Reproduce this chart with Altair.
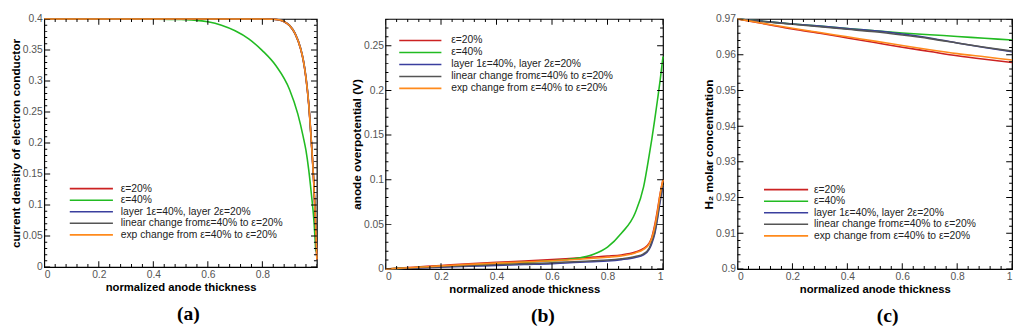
import altair as alt
import pandas as pd

SERIES = ["ε=20%", "ε=40%", "layer 1ε=40%, layer 2ε=20%",
          "linear change fromε=40% to ε=20%", "exp change from ε=40% to ε=20%"]
COLORS = ["#cc2222", "#22bb22", "#3a3f9e", "#555555", "#ff8a1c"]

# ---------------- panel (a): current density of electron conductor
A_X_MAIN = [0, 0.2, 0.4, 0.6, 0.7, 0.8, 0.84, 0.86, 0.88, 0.9, 0.92, 0.94, 0.95,
            0.96, 0.97, 0.98, 0.988, 0.994, 0.998, 1.0]
A_RED = [0.4, 0.4, 0.4, 0.4, 0.4, 0.3999, 0.3995, 0.3985, 0.3955, 0.389, 0.376, 0.352,
         0.333, 0.304, 0.262, 0.199, 0.140, 0.082, 0.035, 0.012]
A_BLUE = [0.4, 0.4, 0.4, 0.4, 0.4, 0.3999, 0.3996, 0.3987, 0.396, 0.3897, 0.3772, 0.3535,
          0.335, 0.3065, 0.265, 0.202, 0.143, 0.085, 0.037, 0.013]
A_GRAY = [0.4, 0.4, 0.4, 0.4, 0.4, 0.3999, 0.3995, 0.3986, 0.3957, 0.3893, 0.3765, 0.3527,
          0.334, 0.3052, 0.2635, 0.2005, 0.1415, 0.0835, 0.036, 0.0125]
A_ORANGE = [0.4, 0.4, 0.4, 0.4, 0.4, 0.3999, 0.3995, 0.3986, 0.3958, 0.3894, 0.3766, 0.3528,
            0.3342, 0.3055, 0.2638, 0.2008, 0.1418, 0.0838, 0.0362, 0.0125]
A_X_GREEN = [0, 0.1, 0.2, 0.3, 0.4, 0.5, 0.55, 0.6, 0.65, 0.7, 0.75, 0.8, 0.85, 0.9,
             0.93, 0.95, 0.96, 0.97, 0.98, 0.99, 0.996]
A_GREEN = [0.4, 0.4, 0.4, 0.4, 0.3998, 0.3992, 0.3982, 0.3955, 0.390, 0.381, 0.368,
           0.349, 0.3245, 0.286, 0.247, 0.210, 0.188, 0.157, 0.117, 0.070, 0.025]

# ---------------- panel (b): anode overpotential
B_X = [0, 0.1, 0.2, 0.3, 0.4, 0.5, 0.6, 0.65, 0.7, 0.75, 0.8, 0.85, 0.9, 0.93, 0.95,
       0.96, 0.97, 0.98, 0.99, 1.0]
B_RED = [0, 0.002, 0.004, 0.006, 0.0075, 0.0088, 0.0105, 0.0115, 0.0125, 0.0135, 0.0145,
         0.0158, 0.019, 0.023, 0.029, 0.036, 0.049, 0.066, 0.085, 0.100]
B_GREEN = [0, 0.0015, 0.003, 0.0045, 0.006, 0.0075, 0.0092, 0.0104, 0.0125, 0.0165,
           0.0245, 0.040, 0.063, 0.092, 0.127, 0.146, 0.167, 0.189, 0.212, 0.238]
B_BLUE = [0, 0.001, 0.002, 0.003, 0.004, 0.005, 0.006, 0.0068, 0.0075, 0.0082, 0.009,
          0.0105, 0.013, 0.016, 0.022, 0.029, 0.039, 0.056, 0.076, 0.092]
B_GRAY = [0, 0.0012, 0.0025, 0.0037, 0.005, 0.006, 0.007, 0.0078, 0.0085, 0.0092, 0.010,
          0.0115, 0.014, 0.017, 0.023, 0.031, 0.041, 0.058, 0.079, 0.094]
B_ORANGE = [0, 0.0017, 0.0035, 0.0052, 0.0066, 0.0078, 0.0093, 0.0101, 0.011, 0.012,
            0.0132, 0.0147, 0.018, 0.022, 0.028, 0.035, 0.047, 0.064, 0.084, 0.100]

# ---------------- panel (c): H2 molar concentration
C_X = [0, 0.1, 0.2, 0.3, 0.4, 0.5, 0.6, 0.7, 0.8, 0.9, 1.0]
C_RED = [0.97, 0.9686, 0.9672, 0.9660, 0.9647, 0.9634, 0.9621, 0.9609, 0.9597, 0.9587, 0.9578]
C_GREEN = [0.97, 0.9693, 0.9686, 0.9680, 0.9673, 0.9667, 0.9661, 0.9656, 0.9651, 0.9646, 0.9641]
C_BLUE = [0.97, 0.9693, 0.9686, 0.9680, 0.9673, 0.9667, 0.9658, 0.9647, 0.9633, 0.9620, 0.9608]
C_GRAY = [0.97, 0.9692, 0.9685, 0.9678, 0.9671, 0.9664, 0.9655, 0.9645, 0.9633, 0.9621, 0.9610]
C_ORANGE = [0.97, 0.9687, 0.9674, 0.9662, 0.9650, 0.9638, 0.9626, 0.9614, 0.9603, 0.9594, 0.9585]

# tick labels
X_TICKS_A = [0, 0.2, 0.4, 0.6, 0.8]
X_TICKS = [0, 0.2, 0.4, 0.6, 0.8, 1.0]
Y_TICKS_A = [0, 0.05, 0.1, 0.15, 0.2, 0.25, 0.3, 0.35, 0.4]
Y_TICKS_B = [0, 0.05, 0.1, 0.15, 0.2, 0.25]
Y_TICKS_C = [0.9, 0.91, 0.92, 0.93, 0.94, 0.95, 0.96, 0.97]


def steps(lo, hi, step):
    n = int(round((hi - lo) / step))
    return [round(lo + i * step, 4) for i in range(n + 1)]


FONT = "Liberation Sans"
CSCALE = alt.Scale(domain=SERIES, range=COLORS)


def frame(xs, ys):
    rows = []
    for k, (xx, yy) in enumerate(zip(xs, ys)):
        for a, b in zip(xx, yy):
            rows.append({"x": a, "y": b, "series": SERIES[k], "k": k})
    return pd.DataFrame(rows)


def panel(df, xdom, ydom, xt, yt, xminor, yminor, ytitle, letter, dx, w, h, leg):
    xs = alt.Scale(domain=xdom, nice=False, zero=False)
    ys = alt.Scale(domain=ydom, nice=False, zero=False)
    lab = dict(labelFont=FONT, labelFontSize=10.5, labelColor="#555555",
               titleFont=FONT, titleFontWeight="bold", titleColor="black",
               grid=False, domain=False, ticks=False, format="~g")
    main_x = alt.Axis(orient="bottom", values=xt, title="normalized anode thickness",
                      titleFontSize=11.5, labelPadding=3, titlePadding=1, **lab)
    main_y = alt.Axis(orient="left", values=yt, title=ytitle, titleFontSize=12,
                      labelPadding=2, titlePadding=0, **lab)
    lines = alt.Chart(df).mark_line(strokeWidth=1.6, interpolate="monotone").encode(
        x=alt.X("x:Q", scale=xs, axis=main_x),
        y=alt.Y("y:Q", scale=ys, axis=main_y),
        color=alt.Color("series:N", scale=CSCALE, legend=None),
        detail="k:N",
    )
    layers = [lines]
    xmaj = [v for v in xt]
    xmin = [v for v in xminor if all(abs(v - m) > 1e-9 for m in xmaj)]
    ymin = [v for v in yminor if all(abs(v - m) > 1e-9 for m in yt)]
    for vals, size in [(xmaj, 6), (xmin, 3)]:
        for ypos in [0, h]:
            layers.append(alt.Chart(pd.DataFrame({"v": vals})).mark_tick(
                orient="vertical", clip=True, thickness=1, size=2 * size, color="black",
                opacity=1).encode(x=alt.X("v:Q", scale=xs, axis=None), y=alt.value(ypos)))
    for vals, size in [(yt, 6), (ymin, 3)]:
        for xpos in [0, w]:
            layers.append(alt.Chart(pd.DataFrame({"v": vals})).mark_tick(
                orient="horizontal", clip=True, thickness=1, size=2 * size, color="black",
                opacity=1).encode(y=alt.Y("v:Q", scale=ys, axis=None), x=alt.value(xpos)))
    lx0, lx1, tx, y0, dy = leg
    legdf = pd.DataFrame({"series": SERIES, "idx": list(range(len(SERIES)))})
    lbase = alt.Chart(legdf).transform_calculate(py=f"{y0} + datum.idx * {dy}")
    layers.append(lbase.mark_rule(strokeWidth=1.6).encode(
        x=alt.value(lx0), x2=alt.value(lx1),
        y=alt.Y("py:Q", scale=None, axis=None),
        color=alt.Color("series:N", scale=CSCALE, legend=None)))
    layers.append(lbase.mark_text(align="left", baseline="middle", font=FONT,
                                  fontSize=10.5, color="#222222").encode(
        x=alt.value(tx), y=alt.Y("py:Q", scale=None, axis=None), text="series:N"))
    return alt.layer(*layers).resolve_axis(x="independent", y="independent").properties(
        width=w, height=h,
        title=alt.TitleParams(letter, orient="bottom", font="Liberation Serif", fontSize=20,
                              fontWeight="bold", color="black", offset=12, dx=dx,
                              anchor="middle", frame="group"))


dfa = pd.concat([frame([A_X_MAIN], [A_RED]).assign(series=SERIES[0], k=0),
                 frame([A_X_GREEN], [A_GREEN]).assign(series=SERIES[1], k=1),
                 frame([A_X_MAIN], [A_BLUE]).assign(series=SERIES[2], k=2),
                 frame([A_X_MAIN], [A_GRAY]).assign(series=SERIES[3], k=3),
                 frame([A_X_MAIN], [A_ORANGE]).assign(series=SERIES[4], k=4)])
dfb = frame([B_X] * 5, [B_RED, B_GREEN, B_BLUE, B_GRAY, B_ORANGE])
dfc = frame([C_X] * 5, [C_RED, C_GREEN, C_BLUE, C_GRAY, C_ORANGE])

pa = panel(dfa, [0, 1], [0, 0.4], X_TICKS_A, Y_TICKS_A, steps(0, 1, 0.04),
           steps(0, 0.4, 0.01), "current density of electron conductor", "(a)", 8,
           278, 253, (26, 70, 78, 173, 11.8))
pb = panel(dfb, [0, 1], [0, 0.28], X_TICKS, Y_TICKS_B, steps(0, 1, 0.04),
           steps(0, 0.28, 0.01), "anode overpotential (V)", "(b)", 19,
           283, 255, (14, 57, 67, 22, 12.2))
pc = panel(dfc, [0, 1], [0.9, 0.97], X_TICKS, Y_TICKS_C, steps(0, 1, 0.04),
           steps(0.9, 0.97, 0.002), "H₂ molar concentration", "(c)", 13,
           280, 255, (27, 72, 78, 174, 11.8))

chart = alt.hconcat(alt.hconcat(pa, pb, spacing=29), pc, spacing=35).configure_view(
    stroke="black", strokeWidth=1.2).properties(
    padding={"left": 0, "top": 2, "right": 0, "bottom": 0})

chart.save("out.html", embed_options={"renderer": "svg", "actions": False})
